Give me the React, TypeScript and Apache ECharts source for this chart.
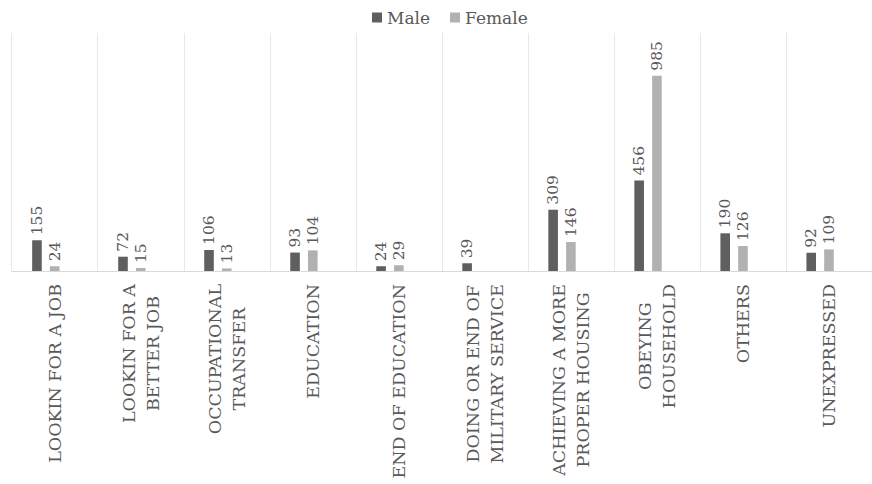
import React, { useEffect, useRef } from "react";
import * as echarts from "echarts";

const categories = [
  "LOOKIN FOR A JOB",
  "LOOKIN FOR A\nBETTER JOB",
  "OCCUPATIONAL\nTRANSFER",
  "EDUCATION",
  "END OF EDUCATION",
  "DOING OR END OF\nMILITARY SERVICE",
  "ACHIEVING A MORE\nPROPER HOUSING",
  "OBEYING\nHOUSEHOLD",
  "OTHERS",
  "UNEXPRESSED",
];
const maleValues = [155, 72, 106, 93, 24, 39, 309, 456, 190, 92];
const femaleValues: (number | null)[] = [24, 15, 13, 104, 29, null, 146, 985, 126, 109];
const hiddenValues: (number | null)[] = [null, null, null, null, null, null, null, null, null, null];

const FONT = "DejaVu Serif";
const TEXT = "#595959";

export default function App() {
  const ref = useRef<HTMLDivElement>(null);
  useEffect(() => {
    if (!ref.current) return;
    document.documentElement.style.overflow = "hidden";
    document.body.style.overflow = "hidden";
    const chart = echarts.init(ref.current, undefined, { renderer: "svg" });
    const label = {
      show: true,
      position: "top",
      rotate: 90,
      align: "left",
      verticalAlign: "middle",
      distance: 5,
      fontFamily: FONT,
      fontSize: 15.5,
      color: TEXT,
    };
    chart.setOption({
      animation: false,
      textStyle: { fontFamily: FONT },
      legend: {
        data: ["Male", "Female"],
        left: 372,
        top: 9,
        padding: 0,
        icon: "rect",
        itemWidth: 10,
        itemHeight: 10,
        itemGap: 20,
        itemStyle: { borderWidth: 0 },
        textStyle: { fontFamily: FONT, fontSize: 17, color: TEXT },
      },
      grid: { left: 11.7, top: 33, width: 870, height: 238, containLabel: false },
      xAxis: {
        type: "category",
        data: categories,
        axisLine: { lineStyle: { color: "#d9d9d9", width: 1 } },
        axisTick: { show: false },
        splitLine: { show: true, lineStyle: { color: "#e8e8e8", width: 1 } },
        axisLabel: {
          interval: 0,
          rotate: 90,
          margin: 13,
          fontFamily: FONT,
          fontSize: 17.5,
          lineHeight: 24,
          color: TEXT,
          formatter: (v: string) =>
            v
              .split("\n")
              .map((l) => `{c|${l}}`)
              .join("\n"),
          rich: {
            c: {
              align: "center",
              fontFamily: FONT,
              fontSize: 17.5,
              lineHeight: 24,
              color: TEXT,
            },
          },
        },
      },
      yAxis: {
        type: "value",
        min: 0,
        max: 1200,
        show: false,
        splitLine: { show: false },
      },
      series: [
        {
          name: "Male",
          type: "bar",
          data: maleValues,
          barWidth: 9.6,
          barGap: "85%",
          itemStyle: { color: "#5f5f5f" },
          label,
        },
        {
          name: "Female",
          type: "bar",
          data: femaleValues,
          barWidth: 9.6,
          barGap: "85%",
          itemStyle: { color: "#b1b1b1" },
          label,
        },
        {
          name: "hidden",
          type: "bar",
          data: hiddenValues,
          barWidth: 9.6,
          barGap: "85%",
          itemStyle: { color: "transparent" },
        },
      ],
    });
    return () => chart.dispose();
  }, []);
  return (
    <div
      ref={ref}
      style={{
        position: "fixed",
        left: 0,
        top: 0,
        width: 872,
        height: 484,
        overflow: "hidden",
        background: "#fff",
      }}
    />
  );
}
